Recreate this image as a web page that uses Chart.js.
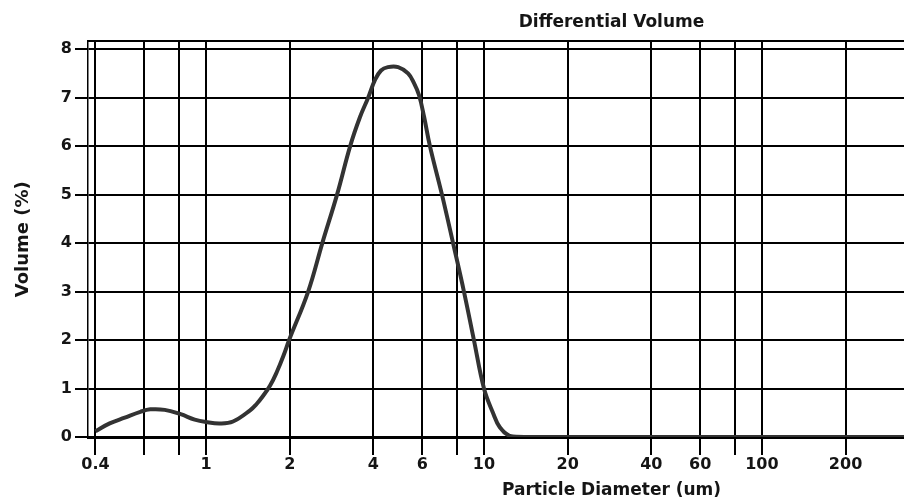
<!DOCTYPE html>
<html>
<head>
<meta charset="utf-8">
<title>Differential Volume</title>
<script src="https://cdn.jsdelivr.net/npm/chart.js@4.4.1/dist/chart.umd.min.js"></script>
<style>
  html, body { margin: 0; padding: 0; background: #fff; }
  #wrap { width: 904px; height: 504px; overflow: hidden; }
  canvas { display: block; }
</style>
</head>
<body>
<div id="wrap"><canvas id="psd" width="1150" height="504"></canvas></div>
<script>
// particle size distribution
var diameters = [0.4, 0.45, 0.51, 0.58, 0.63, 0.71, 0.81, 0.91, 1.0, 1.12,
  1.25, 1.44, 1.52, 1.6, 1.7, 1.8, 1.9, 1.99, 2.33, 2.62,
  2.96, 3.3, 3.58, 3.83, 4.05, 4.26, 4.51, 4.91, 5.33, 5.6,
  5.84, 6.09, 6.39, 7.06, 7.74, 8.47, 9.2, 10.0, 10.77, 11.4,
  12.4, 14, 2000];
var volumes = [0.12, 0.28, 0.4, 0.52, 0.57, 0.56, 0.47, 0.36, 0.31, 0.28,
  0.32, 0.55, 0.68, 0.84, 1.06, 1.35, 1.68, 2.0, 3.0, 4.0,
  5.0, 6.0, 6.6, 7.0, 7.36, 7.56, 7.63, 7.63, 7.5, 7.3,
  7.05, 6.6, 6.0, 5.0, 4.0, 3.0, 2.0, 1.0, 0.5, 0.2,
  0.02, 0, 0];

var xGridValues = [0.4, 0.6, 0.8, 1, 2, 4, 6, 8, 10, 20, 40, 60, 80, 100, 200, 400, 600, 800, 1000, 2000];
var xTickLabels = [0.4, 1, 2, 4, 6, 10, 20, 40, 60, 100, 200];
var yTicks = [0, 1, 2, 3, 4, 5, 6, 7, 8];

var ink = "#151515";
var fontFamily = "'DejaVu Sans', Verdana, sans-serif";

var points = diameters.map(function (d, i) {
  return { x: d, y: volumes[i] };
});

var config = {
  type: "line",
  data: {
    datasets: [
      {
        label: "Volume (%)",
        data: points,
        borderColor: "#333333",
        borderWidth: 4,
        pointRadius: 0,
        fill: false,
        tension: 0.4,
      },
    ],
  },
  options: {
    responsive: false,
    animation: false,
    layout: { padding: { left: 0, right: 15, top: 0, bottom: 0 } },
    plugins: {
      legend: { display: false },
      tooltip: { enabled: false },
      title: {
        display: true,
        text: "Differential Volume",
        fullSize: false,
        color: ink,
        font: { family: fontFamily, size: 17, weight: "bold" },
        padding: { top: 12, bottom: 9 },
      },
    },
    scales: {
      x: {
        type: "logarithmic",
        position: "bottom",
        min: 0.376,
        max: 2200,
        afterBuildTicks: function (scale) {
          scale.ticks = xGridValues.map(function (v) { return { value: v }; });
        },
        afterFit: function (scale) { scale.height = 67; },
        grid: { color: "#000", lineWidth: 2, tickLength: 18, tickColor: "#000", tickWidth: 2 },
        border: { display: true, color: "#000", width: 3 },
        ticks: {
          autoSkip: false,
          maxRotation: 0,
          padding: 0,
          color: ink,
          font: { family: fontFamily, size: 16, weight: "bold" },
          callback: function (value) {
            return xTickLabels.indexOf(value) >= 0 ? String(value) : "";
          },
        },
        title: {
          display: true,
          text: "Particle Diameter (um)",
          color: ink,
          font: { family: fontFamily, size: 17, weight: "bold" },
          padding: { top: 0, bottom: 3 },
        },
      },
      xTop: {
        type: "logarithmic",
        position: "top",
        min: 0.376,
        max: 2200,
        afterFit: function (scale) { scale.height = 0; },
        grid: { display: false },
        border: { display: true, color: "#000", width: 2 },
        ticks: { display: false },
      },
      y: {
        min: 0,
        max: 8.16,
        afterBuildTicks: function (scale) {
          scale.ticks = yTicks.map(function (v) { return { value: v }; });
        },
        afterFit: function (scale) { scale.width = 88; },
        grid: { color: "#000", lineWidth: 2, tickLength: 13, tickColor: "#000", tickWidth: 2 },
        border: { display: true, color: "#000", width: 1.5 },
        ticks: {
          padding: 3,
          color: ink,
          font: { family: fontFamily, size: 16, weight: "bold" },
        },
        title: {
          display: true,
          text: "Volume (%)",
          color: ink,
          font: { family: fontFamily, size: 18, weight: "bold" },
          padding: { top: 13, bottom: 0 },
        },
      },
    },
  },
};

var chart = new Chart(document.getElementById("psd"), config);
</script>
</body>
</html>
